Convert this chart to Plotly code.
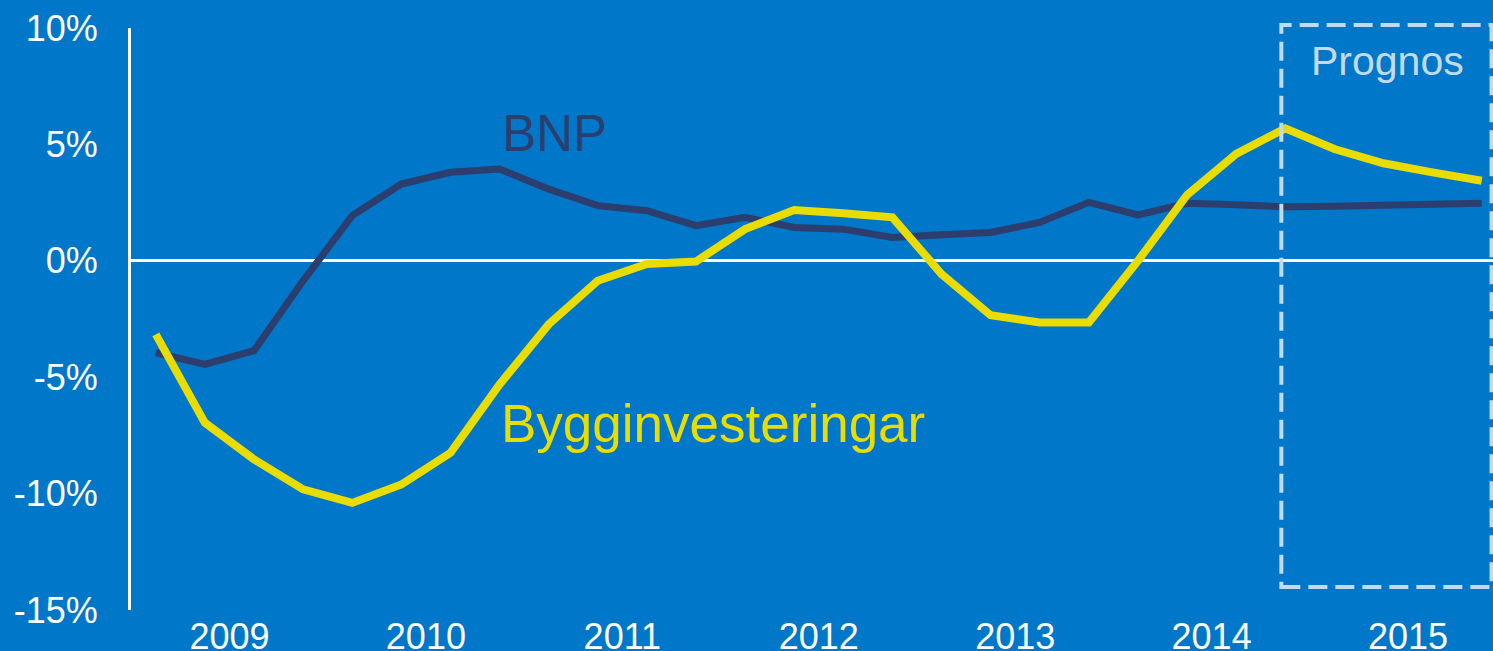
import plotly.graph_objects as go

# ---- data ----
years = ["2009", "2010", "2011", "2012", "2013", "2014", "2015"]
quarters = [f"{y}Q{q}" for y in years for q in range(1, 5)]
bnp = [-3.95, -4.45, -3.86, -0.86, 1.94, 3.30, 3.80, 3.94, 3.08, 2.37, 2.15, 1.51,
       1.87, 1.43, 1.36, 1.00, 1.12, 1.22, 1.65, 2.51, 1.97, 2.47, 2.41, 2.32,
       2.34, 2.38, 2.42, 2.47]
bygg = [-3.16, -6.96, -8.53, -9.82, -10.40, -9.61, -8.25, -5.31, -2.73, -0.86, -0.14, -0.03,
        1.36, 2.18, 2.04, 1.87, -0.57, -2.34, -2.65, -2.65, 0.00, 2.83, 4.59, 5.69,
        4.80, 4.19, 3.80, 3.44]
y_ticks = [-15, -10, -5, 0, 5, 10]
y_ticktext = ["-15%", "-10%", "-5%", "0%", "5%", "10%"]

x = list(range(len(quarters)))
year_pos = [i * 4 + 1.5 for i in range(len(years))]

BG = "#0077C8"
NAVY = "#2C3E6E"
YELLOW = "#E8DC00"
LIGHT = "#C3DAEA"
FONT = "Liberation Sans, Arial, sans-serif"

fig = go.Figure()
fig.add_trace(go.Scatter(x=x, y=bnp, mode="lines", name="BNP",
                         line=dict(color=NAVY, width=7), hoverinfo="skip"))
fig.add_trace(go.Scatter(x=x, y=bygg, mode="lines", name="Bygginvesteringar",
                         line=dict(color=YELLOW, width=8), hoverinfo="skip"))

# forecast box
fig.add_shape(type="rect", xref="x", yref="paper",
              x0=22.92, x1=27.2, y0=0.0395, y1=1.005,
              line=dict(color=LIGHT, width=4, dash="19px,8px"),
              fillcolor="rgba(0,0,0,0)", layer="above")

fig.add_annotation(x=7.0, y=5.45, xref="x", yref="y", text="BNP", showarrow=False,
                   xanchor="left", yanchor="middle",
                   font=dict(family=FONT, size=51, color=NAVY))
fig.add_annotation(x=6.98, y=-7.0, xref="x", yref="y", text="Bygginvesteringar",
                   showarrow=False, xanchor="left", yanchor="middle",
                   font=dict(family=FONT, size=53, color=YELLOW))
fig.add_annotation(x=25.08, y=8.58, xref="x", yref="y", text="Prognos",
                   showarrow=False, xanchor="center", yanchor="middle",
                   font=dict(family=FONT, size=41, color=LIGHT))

fig.update_layout(
    width=1493, height=651, autosize=False,
    margin=dict(l=131, r=0, t=28, b=41, pad=0, autoexpand=False),
    paper_bgcolor=BG, plot_bgcolor=BG,
    showlegend=False,
    font=dict(family=FONT, color="white", size=36),
)
fig.update_xaxes(range=[-0.505, 27.23], tickvals=year_pos, ticktext=years,
                 showgrid=False, zeroline=False, showline=False, ticks="",
                 automargin=False, ticklabelstandoff=2,
                 tickfont=dict(family=FONT, size=36, color="white"))
fig.update_yaxes(range=[-15, 10], tickvals=y_ticks, ticktext=y_ticktext,
                 showgrid=False, zeroline=True, zerolinecolor="white", zerolinewidth=3,
                 showline=True, linecolor="white", linewidth=3, ticks="",
                 automargin=False, ticklabelstandoff=23,
                 tickfont=dict(family=FONT, size=36, color="white"))

fig.write_html(
    "out.html",
    config={"displayModeBar": False, "responsive": False},
    post_script="document.body.style.margin='0';document.body.style.padding='0';"
                "document.body.style.overflow='hidden';",
)
